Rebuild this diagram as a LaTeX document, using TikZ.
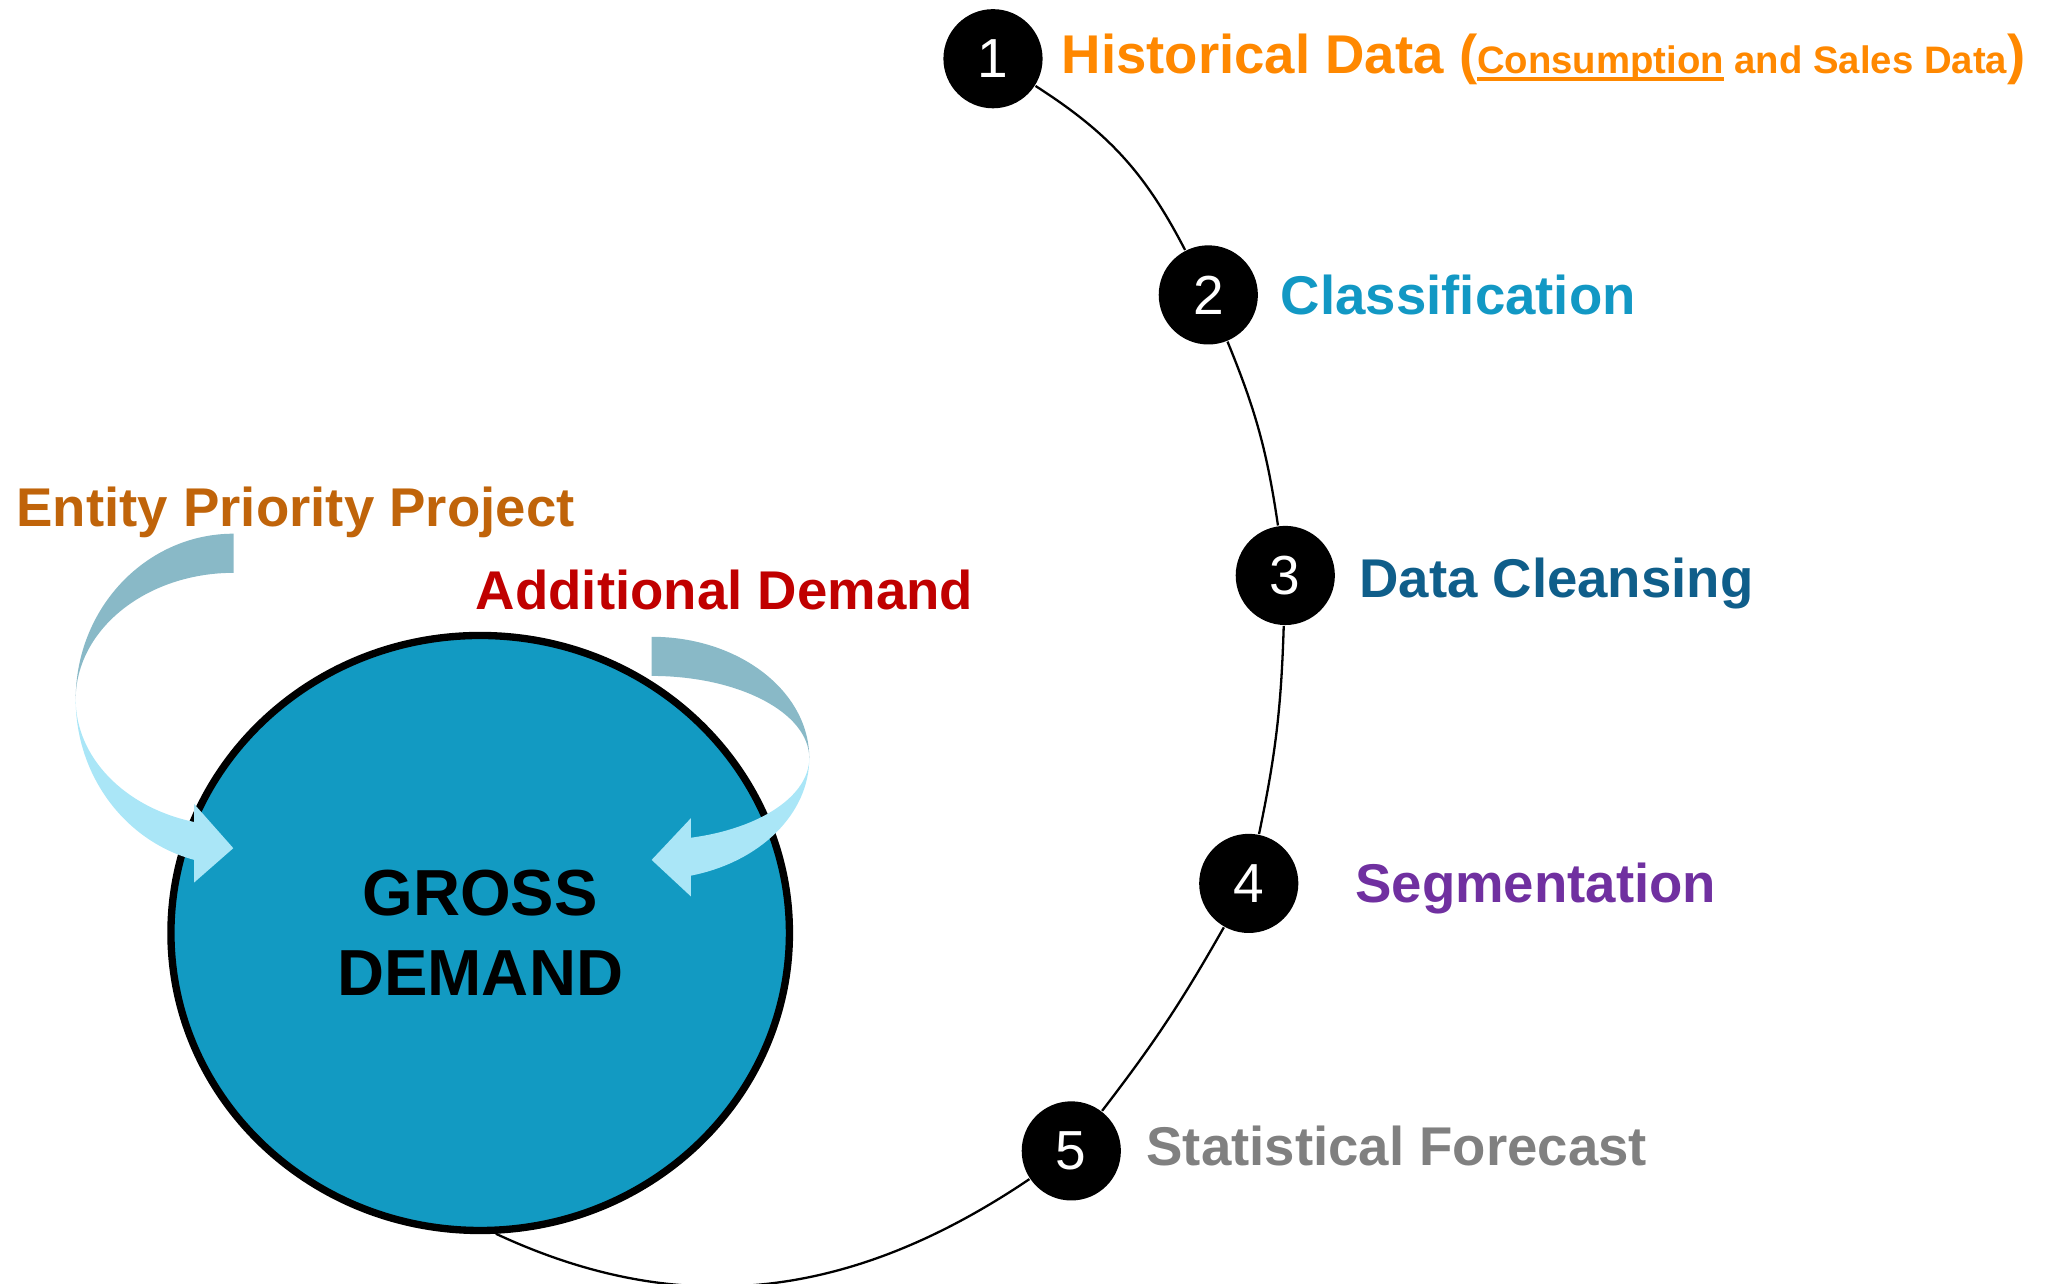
\documentclass[tikz,border=0pt]{standalone}
\usepackage{fontspec}
\setmainfont{Liberation Sans}
\usepackage{tikz}
\usetikzlibrary{shapes.geometric}
\newcommand{\sottolinea}[1]{\setbox0\hbox{#1}\rlap{\rule[-1.75pt]{\wd0}{0.9pt}}\box0\relax}
\definecolor{arancio}{RGB}{255,136,0}
\definecolor{ciano}{RGB}{18,152,196}
\definecolor{blunotte}{RGB}{15,94,138}
\definecolor{viola}{RGB}{112,48,160}
\definecolor{grigio}{RGB}{128,128,128}
\definecolor{ruggine}{RGB}{192,100,10}
\definecolor{rosso}{RGB}{192,0,0}
\definecolor{azzurro}{RGB}{18,154,194}
\definecolor{grigioblu}{RGB}{137,185,199}
\definecolor{celeste}{RGB}{170,230,247}
\tikzset{
passo/.style={circle,fill=black,text=white,minimum size=7.6mm,inner sep=0pt,font=\fontsize{12}{14}\selectfont},
linea/.style={line width=0.5pt},
etichetta/.style={anchor=base west,inner sep=0pt,font=\bfseries\fontsize{11.9}{14}\selectfont},
domanda/.style={ellipse,draw,line width=1.6pt,fill=azzurro,minimum width=4.74cm,minimum height=4.56cm,align=center,font=\bfseries\fontsize{14.2}{17.4}\selectfont},
retro/.style={fill=grigioblu},
fronte/.style={fill=celeste}}

\begin{document}
\begin{tikzpicture}

\useasboundingbox (0,0) rectangle (15.68,-9.84);
\clip (0,0) rectangle (15.68,-9.84);

\node[domanda] (gd) at (3.68,-7.15) {GROSS\\DEMAND};

\node[passo] (1) at (7.61,-0.45) {1};
\node[passo] (2) at (9.26,-2.26) {2};
\node[passo] (3) at (9.85,-4.41) {3};
\node[passo] (4) at (9.57,-6.77) {4};
\node[passo] (5) at (8.21,-8.82) {5};

\path[linea] (1) edge[bend left=15] (2);
\path[linea] (2) edge[bend left=7] (3);
\path[linea] (3) edge[bend left=5] (4);
\path[linea] (4) edge[bend left=4] (5);
\path[linea] (5) edge[out=214,in=-25] (gd.-87);

% frecce curve
\fill[retro] (1.79,-4.09) arc[start angle=90,end angle=180,x radius=1.21,y radius=1.27]
  arc[start angle=180,end angle=90,x radius=1.21,y radius=0.97] -- cycle;
\fill[fronte] (0.58,-5.36) arc[start angle=180,end angle=255.5,x radius=1.21,y radius=1.27]
  -- (1.487,-6.764) -- (1.788,-6.50) -- (1.487,-6.16)
  -- ([shift={(1.79,-5.36)}]255.5:1.21 and 0.97)
  arc[start angle=255.5,end angle=180,x radius=1.21,y radius=0.97] -- cycle;

\fill[retro] (4.994,-4.88) arc[start angle=90,end angle=0,x radius=1.208,y radius=0.93]
  arc[start angle=0,end angle=90,x radius=1.208,y radius=0.63] -- cycle;
\fill[fronte] (6.202,-5.81) arc[start angle=0,end angle=-75.6,x radius=1.208,y radius=0.93]
  -- (5.295,-6.87) -- (4.994,-6.59) -- (5.295,-6.27)
  -- ([shift={(4.994,-5.81)}]-75.6:1.208 and 0.63)
  arc[start angle=-75.6,end angle=0,x radius=1.208,y radius=0.63] -- cycle;

\node[etichetta,text=arancio] (l1) at (8.13,-0.56) {Historical Data ({\fontsize{8.35}{10}\selectfont\sottolinea{Consumption} and Sales Data})};
\node[etichetta,text=ciano] (l2) at (9.81,-2.41) {Classification};
\node[etichetta,text=blunotte] (l3) at (10.41,-4.58) {Data Cleansing};
\node[etichetta,text=viola] (l4) at (10.38,-6.92) {Segmentation};
\node[etichetta,text=grigio] (l5) at (8.78,-8.93) {Statistical Forecast};
\node[etichetta,text=ruggine] (epp) at (0.12,-4.036) {Entity Priority Project};
\node[etichetta,text=rosso] (ad) at (3.64,-4.67) {Additional Demand};

\end{tikzpicture}
\end{document}
